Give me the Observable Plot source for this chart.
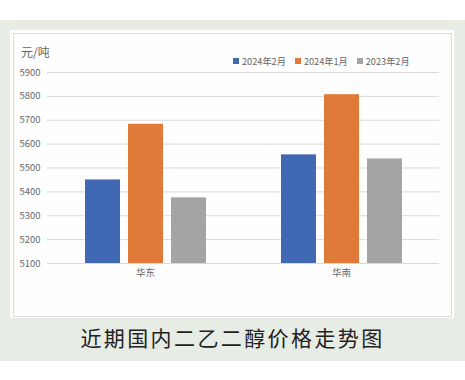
<!DOCTYPE html>
<html><head><meta charset="utf-8">
<script src="https://cdn.jsdelivr.net/npm/d3@7"></script>
<script src="https://cdn.jsdelivr.net/npm/@observablehq/plot@0.6"></script>
<style>
body{margin:0;width:465px;height:380px;background:#fff;position:relative;overflow:hidden;font-family:"Noto Sans CJK SC","Noto Sans",sans-serif;}
#green{position:absolute;left:0;top:20px;width:465px;height:341px;background:#e7ede5;}
#panel{position:absolute;left:10px;top:30px;width:444px;height:288px;background:#fff;}
#inner{position:absolute;left:13px;top:33px;width:437px;height:282px;border:1px solid #dcdcdc;background:#fefefe;}
#chart{position:absolute;left:0;top:0;}
#unit{position:absolute;left:21px;top:43px;font-size:12px;color:#666;}
#legend{position:absolute;left:233px;top:54px;font-size:9.2px;color:#666;display:flex;gap:0;}
#legend span.it{display:flex;align-items:center;margin-right:9px;}
#legend i{display:inline-block;width:6px;height:6px;margin-right:3px;}
#title{position:absolute;left:0;width:465px;top:322px;text-align:center;font-size:21px;letter-spacing:2.4px;color:#222;}
</style></head>
<body>
<div id="green"></div><div id="panel"></div><div id="inner"></div>
<div id="unit">元/吨</div>
<div id="legend"></div>
<div id="chart"></div>
<div id="title">近期国内二乙二醇价格走势图</div>
<script>
const regions = ["华东", "华南"];
const seriesNames = ["2024年2月", "2024年1月", "2023年2月"];
const seriesColors = ["#4169b3", "#e07a38", "#a5a4a4"];
const values_2024_02 = [5450, 5555];
const values_2024_01 = [5683, 5807];
const values_2023_02 = [5375, 5538];
const yTicks = [5100, 5200, 5300, 5400, 5500, 5600, 5700, 5800, 5900];

const allValues = [values_2024_02, values_2024_01, values_2023_02];
const data = [];
regions.forEach((r, i) => seriesNames.forEach((s, j) => data.push({region: r, series: s, value: allValues[j][i]})));

const leg = document.getElementById("legend");
seriesNames.forEach((s, j) => {
  const e = document.createElement("span");
  e.className = "it";
  e.innerHTML = `<i style="background:${seriesColors[j]}"></i>${s}`;
  leg.appendChild(e);
});

const chart = Plot.plot({
  width: 465,
  height: 300,
  marginLeft: 47,
  marginRight: 26,
  marginTop: 72,
  marginBottom: 37,
  style: {background: "transparent", fontFamily: "'Noto Sans CJK SC','Noto Sans',sans-serif", fontSize: "9.5px", color: "#666"},
  fx: {domain: regions, padding: 0, axis: "bottom", label: null, tickSize: 0, tickPadding: 6},
  x: {domain: seriesNames, axis: null, paddingInner: 0.19, paddingOuter: 0.86},
  y: {domain: [5100, 5900], ticks: yTicks, tickSize: 0, tickPadding: 7, label: null, grid: false, tickFormat: d => String(d)},
  color: {domain: seriesNames, range: seriesColors},
  marks: [
    Plot.gridY(yTicks, {stroke: "#d9d9d9", strokeOpacity: 1}),
    Plot.barY(data, {fx: "region", x: "series", y1: 5100, y2: "value", fill: "series"})
  ]
});
document.getElementById("chart").appendChild(chart);
</script>
</body></html>
